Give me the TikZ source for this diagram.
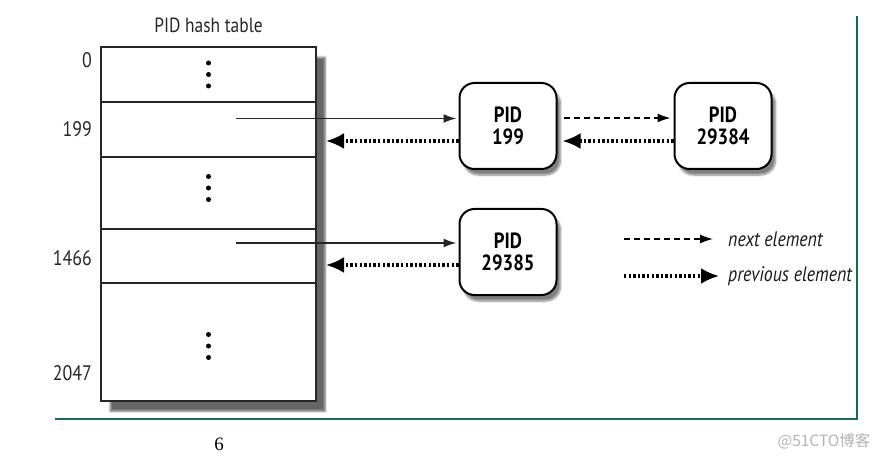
\documentclass[tikz,border=0pt]{standalone}
\usepackage{fontspec}
\setmainfont{PT Sans}[FakeStretch=0.85]
\newfontfamily\pagefont{Liberation Serif}
\newfontfamily\cjk{Noto Sans CJK SC}
\usetikzlibrary{arrows.meta,shadows.blur,positioning}
\definecolor{framegreen}{RGB}{22,108,84}
\tikzset{
	slot/.style={draw=black!85, line width=1.5pt, fill=white, minimum width=215pt, inner sep=0pt, outer sep=0pt},
	idx/.style={anchor=east, inner sep=0pt, font=\fontsize{21}{21}\selectfont, text=black!85},
	pidbox/.style={draw=black, line width=2pt, rounded corners=15pt, fill=white, minimum width=97pt, minimum height=86pt, align=center, inner sep=0pt, font=\fontsize{22}{22}\selectfont\bfseries, blur shadow={shadow xshift=4pt, shadow yshift=-6pt, shadow opacity=50, shadow blur steps=8}},
	headptr/.style={line width=1.7pt, black!85, -{Latex[length=13pt,width=9pt]}},
	nextptr/.style={line width=1.4pt, dash pattern=on 6pt off 4pt, -{Latex[length=13pt,width=9pt]}},
	prevptr/.style={line width=3.2pt, dash pattern=on 2.4pt off 2.2pt, -{Latex[length=18pt,width=16pt]}},
	legtext/.style={anchor=west, inner sep=0pt, font=\fontsize{21}{21}\selectfont\itshape, text=black!90},
}
\begin{document}
\begin{tikzpicture}[x=1pt,y=-1pt]
	\useasboundingbox (0,0) rectangle (883,457);
	% frame of the page
	\draw[framegreen, line width=1.6pt] (55,419) -- (857,419) -- (857,16);
	% table with its shadow
	\node[anchor=north west, minimum width=215pt, minimum height=354pt, inner sep=0pt, fill=white, blur shadow={shadow xshift=9pt, shadow yshift=-10pt, shadow opacity=60, shadow blur steps=6}] (tab) at (101,47) {};
	\node[slot, minimum height=55pt, anchor=north west] (r0) at (101,47) {};
	\node[slot, minimum height=55pt, below=0pt of r0] (r199) {};
	\node[slot, minimum height=72pt, below=0pt of r199] (rmid) {};
	\node[slot, minimum height=54pt, below=0pt of rmid] (r1466) {};
	\node[slot, minimum height=118pt, below=0pt of r1466] (r2047) {};
	\node[anchor=base, inner sep=0pt, font=\fontsize{20.5}{20}\selectfont, text=black!85] (title) at ([yshift=14pt]r0.north) {PID hash table};
	% dots
	\foreach \r/\d in {r0/0, rmid/-5, r2047/4}
		\foreach \k in {-1,0,1}
			\fill ([yshift=-\d pt-\k*11.5pt]\r.center) circle (2.5pt);
	% indices
	\node[idx] (l0) at ([xshift=-9pt,yshift=-13pt]r0.north west) {0};
	\node[idx] (l199) at ([xshift=-9pt]r199.west) {199};
	\node[idx] (l1466) at ([xshift=-9pt,yshift=-2pt]r1466.west) {1466};
	\node[idx] (l2047) at ([xshift=-9pt,yshift=28pt]r2047.south west) {2047};
	% list elements
	\node[pidbox] (p199) at (508,126) {PID\\199};
	\node[pidbox] (p29384) at (723,126) {PID\\29384};
	\node[pidbox] (p29385) at (508,252) {PID\\29385};
	\coordinate (h199) at ([xshift=27pt,yshift=11pt]r199.center);
	\coordinate (h1466) at ([xshift=27pt,yshift=13pt]r1466.center);
	\coordinate (t199) at (326,141);
	\coordinate (t1466) at (326,265);
	\draw[headptr] (h199) -- ([xshift=-2pt]h199 -| p199.west);
	\draw[prevptr] ([yshift=-15pt]p199.west) -- (t199);
	\draw[headptr] (h1466) -- ([xshift=-2pt]h1466 -| p29385.west);
	\draw[prevptr] ([yshift=-13pt]p29385.west) -- (t1466);
	\draw[nextptr] ([xshift=6pt,yshift=8pt]p199.east) -- ([xshift=-3pt,yshift=8pt]p29384.west);
	\draw[prevptr] ([yshift=-15pt]p29384.west) -- ([xshift=5pt,yshift=-15pt]p199.east);
	% legend
	\node[legtext] (lnext) at (728,239) {next element};
	\node[legtext] (lprev) at (728,276) {previous element};
	\coordinate (snext) at (624,239);
	\coordinate (sprev) at (624,276);
	\draw[nextptr] (snext) -- ([xshift=-15pt]lnext.west);
	\draw[prevptr] (sprev) -- ([xshift=-9pt]lprev.west);
	% page number and mark
	\node[inner sep=0pt, font=\pagefont\fontsize{19}{19}\selectfont] (pg) at (219,444) {6};
	\node[inner sep=0pt, font=\cjk\fontsize{15.5}{15}\selectfont, text=black!30] (mark) at (824,441) {@51CTO博客};
\end{tikzpicture}
\end{document}
